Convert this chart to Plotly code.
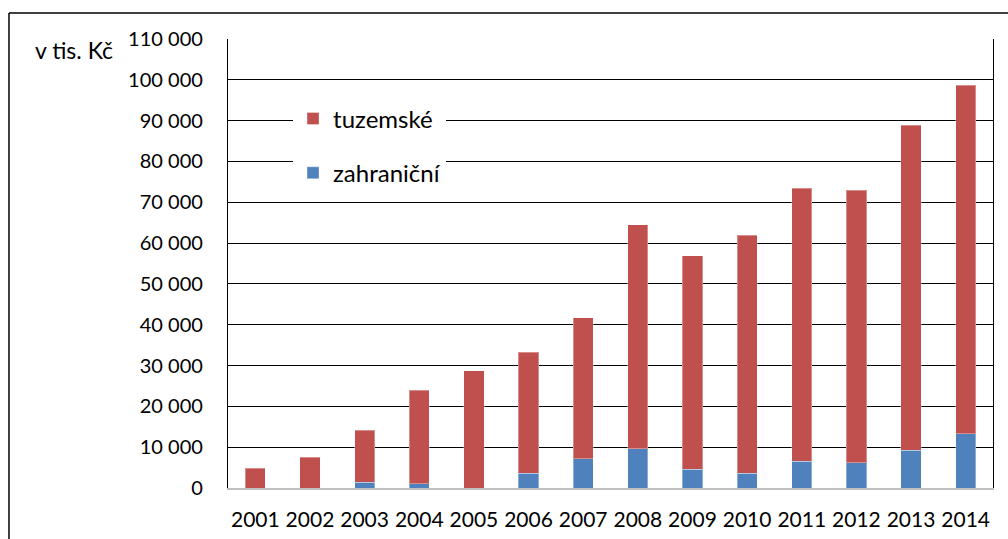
import plotly.graph_objects as go

years = ["2001", "2002", "2003", "2004", "2005", "2006", "2007",
         "2008", "2009", "2010", "2011", "2012", "2013", "2014"]
totals = [4800, 7500, 14100, 24000, 28700, 33200, 41700,
          64500, 56900, 61900, 73400, 72900, 88900, 98700]
zahranicni = [0, 0, 1400, 1050, 0, 3600, 7200,
              9600, 4650, 3600, 6600, 6200, 9250, 13300]
tuzemske = [t - z for t, z in zip(totals, zahranicni)]
y_ticks = list(range(0, 110001, 10000))
y_ticktext = [f"{v:,}".replace(",", " ") for v in y_ticks]

FONT = "Lato, 'Open Sans', sans-serif"
RED = "#C0504D"
BLUE = "#4F81BD"

fig = go.Figure()
fig.add_trace(go.Bar(x=years, y=zahranicni, name="zahraniční",
                     marker=dict(color=BLUE, line=dict(color="rgba(255,255,255,0.35)", width=1)),
                     legendgroup="b", legendrank=2))
fig.add_trace(go.Bar(x=years, y=tuzemske, name="tuzemské",
                     marker=dict(color=RED, line=dict(color="rgba(255,255,255,0.35)", width=1)),
                     legendgroup="a", legendrank=1))

fig.update_layout(
    width=1008, height=539,
    barmode="stack", bargap=0.63,
    plot_bgcolor="white", paper_bgcolor="white",
    margin=dict(l=228, r=15, t=39, b=51),
    font=dict(family=FONT, size=20, color="black"),
    showlegend=True,
    legend=dict(x=0.085, y=0.872, xanchor="left", yanchor="top",
                bgcolor="white", font=dict(size=24, family=FONT),
                traceorder="grouped", tracegroupgap=20,
                itemwidth=30, borderwidth=0),
    xaxis=dict(showline=True, linecolor="#BFBFBF", linewidth=2,
               ticks="", ticklabelstandoff=12, showgrid=False,
               tickfont=dict(size=21), automargin=False),
    yaxis=dict(range=[0, 110000], tickvals=y_ticks, ticktext=y_ticktext,
               showgrid=True, gridcolor="black", gridwidth=1.3,
               zeroline=False, showline=True, linecolor="black", linewidth=1.3,
               mirror=True, ticks="", ticklabelstandoff=20, automargin=False),
    annotations=[dict(text="v tis. Kč", xref="paper", yref="paper",
                      x=-0.1477, y=0.9755, xanchor="right", yanchor="middle",
                      showarrow=False, font=dict(size=23, family=FONT))],
    shapes=[
        dict(type="line", xref="paper", yref="paper",
             x0=-0.2863, y0=1.0579, x1=1.2, y1=1.0579,
             line=dict(color="black", width=1.5), layer="below"),
        dict(type="line", xref="paper", yref="paper",
             x0=-0.2863, y0=1.0579, x1=-0.2863, y1=-0.3,
             line=dict(color="black", width=1.5), layer="below"),
    ],
)

fig.write_html("out.html", config={"displayModeBar": False},
               post_script="document.body.style.margin='0';")
